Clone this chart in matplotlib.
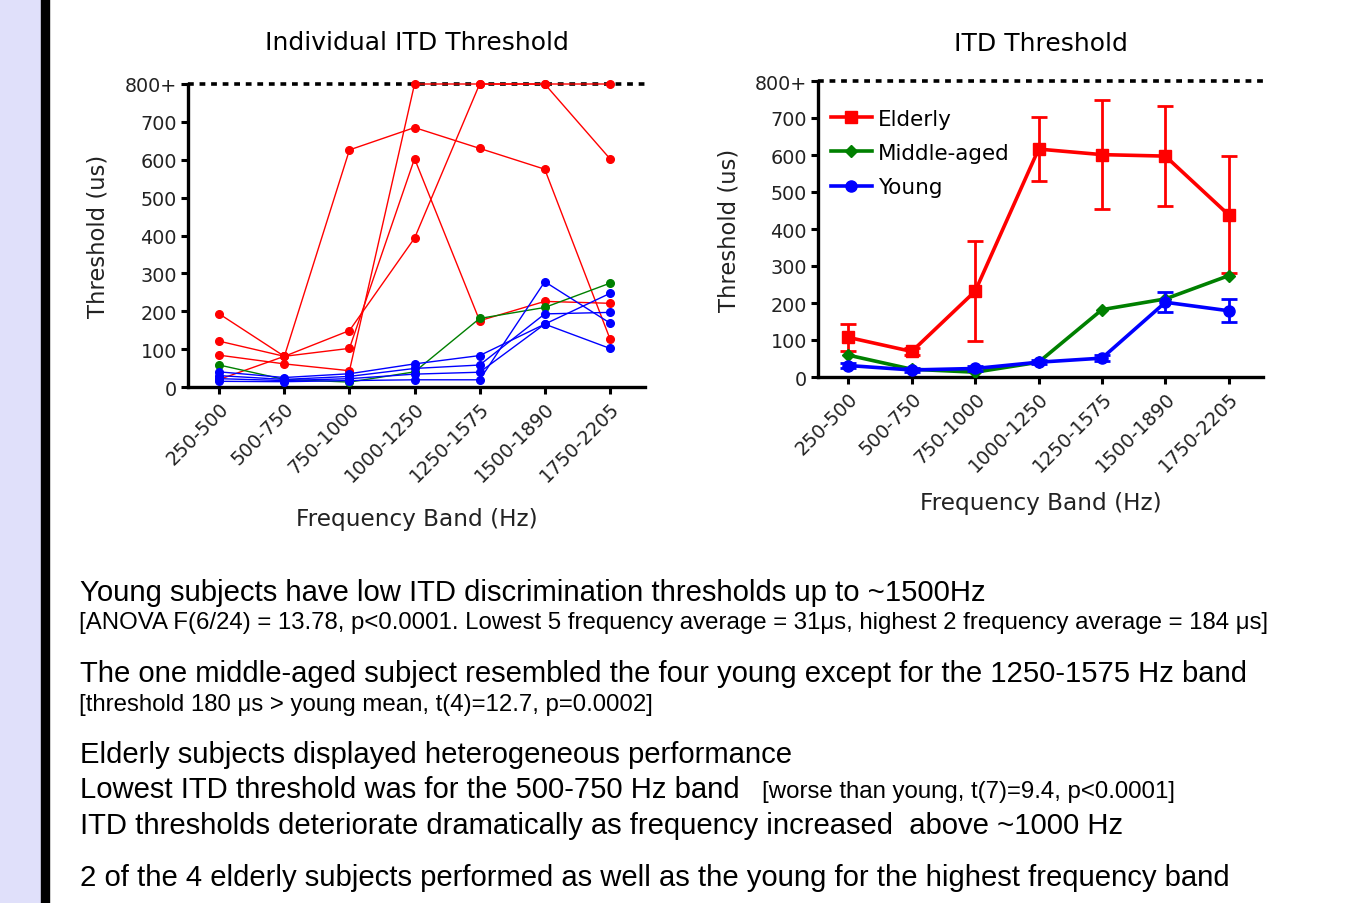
import numpy as np
import matplotlib.pyplot as plt
from matplotlib.patches import Rectangle
from matplotlib.lines import Line2D

# frequency bands (x categories)
bands = ["250-500", "500-750", "750-1000", "1000-1250", "1250-1575", "1500-1890", "1750-2205"]
ytick_vals = [0, 100, 200, 300, 400, 500, 600, 700, 800]
ytick_labels = ["0", "100", "200", "300", "400", "500", "600", "700", "800+"]

# individual subjects (us), 800 = ceiling
elderly_a = [193, 81, 626, 685, 630, 575, 128]
elderly_b = [20, 81, 149, 393, 800, 800, 603]
elderly_c = [121, 81, 102, 603, 175, 226, 221]
elderly_d = [84, 61, 43, 800, 800, 800, 800]
middle_1 = [58, 20, 13, 40, 181, 210, 274]
young_1 = [40, 25, 35, 61, 83, 166, 247]
young_2 = [30, 20, 28, 49, 58, 193, 197]
young_3 = [22, 17, 22, 34, 39, 166, 102]
young_4 = [15, 14, 17, 19, 19, 278, 169]

# group means and error
elderly_mean = [107, 69, 232, 616, 601, 597, 438]
elderly_err = [36, 10, 135, 86, 147, 136, 158]
middle_mean = [59, 21, 13, 40, 182, 211, 274]
young_mean = [31, 19, 23, 40, 51, 202, 179]
young_err = [8, 5, 6, 5, 8, 27, 31]

RED, GREEN, BLUE = "#ff0000", "#008000", "#0000ff"
x = np.arange(len(bands))

W, H = 1349, 904
fig = plt.figure(figsize=(W / 100, H / 100), dpi=100)
fig.patches.append(Rectangle((0, 0), 41 / W, 1, transform=fig.transFigure,
                             color="#e0e0fa", zorder=0))
fig.patches.append(Rectangle((41 / W, 0), 8 / W, 1, transform=fig.transFigure,
                             color="black", zorder=0))

chart_font = "DejaVu Sans"
txt_col = "#222222"


def style_axes(ax, title, title_pad, xpad, ypad):
    for s in ["top", "right"]:
        ax.spines[s].set_visible(False)
    for s in ["left", "bottom"]:
        ax.spines[s].set_linewidth(2.4)
    ax.set_ylim(0, 800)
    ax.set_xlim(-0.48, 6.54)
    ax.set_yticks(ytick_vals)
    ax.set_yticklabels(ytick_labels, fontsize=13.8, family=chart_font, color=txt_col)
    ax.set_xticks(x)
    ax.set_xticklabels(bands, rotation=45, ha="right", rotation_mode="anchor",
                       fontsize=13.8, family=chart_font, color=txt_col)
    ax.tick_params(length=5, width=2.2, pad=3)
    ax.axhline(800, color="black", lw=2.6, ls=(0, (1.6, 1.6)), clip_on=False, zorder=1)
    ax.set_ylabel("Threshold (us)", fontsize=16.4, family=chart_font, color=txt_col, labelpad=ypad)
    ax.set_xlabel("Frequency Band (Hz)", fontsize=16.7, family=chart_font, color=txt_col, labelpad=xpad)
    ax.set_title(title, fontsize=18, family=chart_font, pad=title_pad)


# left: individual thresholds
ax1 = fig.add_axes([188 / W, 1 - 388 / H, 457 / W, 303 / H])
for ys in [elderly_a, elderly_b, elderly_c, elderly_d]:
    ax1.plot(x, ys, color=RED, lw=1.0, marker="o", ms=5.5, clip_on=False, zorder=3)
ax1.plot(x, middle_1, color=GREEN, lw=1.0, marker="o", ms=5.5, clip_on=False, zorder=4)
for ys in [young_1, young_2, young_3, young_4]:
    ax1.plot(x, ys, color=BLUE, lw=1.0, marker="o", ms=5.5, clip_on=False, zorder=5)
style_axes(ax1, "Individual ITD Threshold", 25, 16, 11)

# right: group means
ax2 = fig.add_axes([818 / W, 1 - 378 / H, 445 / W, 296 / H])
ax2.errorbar(x, elderly_mean, yerr=elderly_err, color=RED, lw=2.6, marker="s", ms=9,
             elinewidth=2, capsize=6, capthick=2, zorder=3)
ax2.plot(x, middle_mean, color=GREEN, lw=2.6, marker="D", ms=6, zorder=4)
ax2.errorbar(x, young_mean, yerr=young_err, color=BLUE, lw=2.6, marker="o", ms=8,
             elinewidth=2, capsize=6, capthick=2, zorder=5)
style_axes(ax2, "ITD Threshold", 22, 12, 10)
handles = [
    Line2D([], [], color=RED, lw=2.6, marker="s", ms=9),
    Line2D([], [], color=GREEN, lw=2.6, marker="D", ms=6),
    Line2D([], [], color=BLUE, lw=2.6, marker="o", ms=8),
]
ax2.legend(handles, ["Elderly", "Middle-aged", "Young"], loc="upper left",
           bbox_to_anchor=(0.0, 0.95), frameon=False,
           prop={"family": chart_font, "size": 15.5}, handlelength=1.9,
           handletextpad=0.3, labelspacing=0.66, borderaxespad=0.2)

# notes below the charts
body = ["Liberation Sans", "DejaVu Sans"]
big, small = 21.1, 17.3
notes = [
    (80, 601, "Young subjects have low ITD discrimination thresholds up to ~1500Hz", big),
    (79, 629, "[ANOVA F(6/24) = 13.78, p<0.0001. Lowest 5 frequency average = 31μs, "
              "highest 2 frequency average = 184 μs]", small),
    (80, 682, "The one middle-aged subject resembled the four young except for the 1250-1575 Hz band", big),
    (79, 711, "[threshold 180 μs > young mean, t(4)=12.7, p=0.0002]", small),
    (80, 763, "Elderly subjects displayed heterogeneous performance", big),
    (80, 798, "Lowest ITD threshold was for the 500-750 Hz band", big),
    (762, 798, "[worse than young, t(7)=9.4, p<0.0001]", small),
    (80, 834, "ITD thresholds deteriorate dramatically as frequency increased  above ~1000 Hz", big),
    (80, 886, "2 of the 4 elderly subjects performed as well as the young for the highest frequency band", big),
]
for px, py, txt, fs in notes:
    fig.text(px / W, 1 - py / H, txt, fontsize=fs, family=body, va="baseline", ha="left")

fig.savefig("out.png", dpi=100)
